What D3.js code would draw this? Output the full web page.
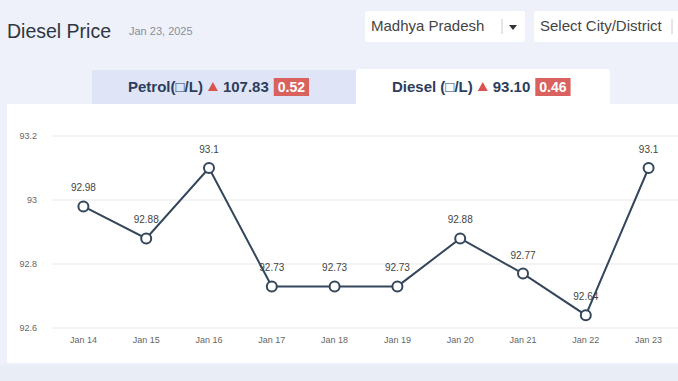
<!DOCTYPE html>
<html>
<head>
<meta charset="utf-8">
<script src="https://cdn.jsdelivr.net/npm/d3@7"></script>
<style>
  body { margin: 0; background: #eef1fa; font-family: "Liberation Sans", Arial, sans-serif; }
  svg { display: block; }
</style>
</head>
<body>
<div id="chart"></div>
<script>
var days = ["Jan 14", "Jan 15", "Jan 16", "Jan 17", "Jan 18", "Jan 19", "Jan 20", "Jan 21", "Jan 22", "Jan 23"];
var prices = [92.98, 92.88, 93.1, 92.73, 92.73, 92.73, 92.88, 92.77, 92.64, 93.1];
var yTicks = [92.6, 92.8, 93, 93.2];

var width = 678, height = 381;

var svg = d3.select("#chart").append("svg")
    .attr("width", width)
    .attr("height", height);

svg.append("rect").attr("width", width).attr("height", height).attr("fill", "#eef1fa");

// header
svg.append("text").attr("x", 7).attr("y", 38)
    .attr("font-size", 19.5).attr("fill", "#2f3640").text("Diesel Price");
svg.append("text").attr("x", 129).attr("y", 35)
    .attr("font-size", 11).attr("fill", "#8a8f99").text("Jan 23, 2025");

// dropdowns
var drops = [
  { x: 365, w: 160, label: "Madhya Pradesh", div: 502, arrow: true },
  { x: 534, w: 150, label: "Select City/District", div: 672, arrow: false }
];
drops.forEach(function(d) {
  svg.append("rect").attr("x", d.x).attr("y", 11).attr("width", d.w).attr("height", 31)
      .attr("rx", 3).attr("fill", "#fff");
  svg.append("text").attr("x", d.x + 6).attr("y", 31)
      .attr("font-size", 15).attr("fill", "#444").text(d.label);
  svg.append("line").attr("x1", d.div).attr("x2", d.div).attr("y1", 19).attr("y2", 34)
      .attr("stroke", "#ccc");
  if (d.arrow) {
    svg.append("path").attr("d", "M509,25 L517,25 L513,30 Z").attr("fill", "#333");
  }
});

// tabs
svg.append("rect").attr("x", 92).attr("y", 70).attr("width", 264).attr("height", 35)
    .attr("fill", "#dfe5f6");
svg.append("path").attr("d", "M356,104 L356,73 Q356,69 360,69 L606,69 Q610,69 610,73 L610,104 Z")
    .attr("fill", "#fff");

var tabs = [
  { x: 128, name: "Petrol(\u25A1/L)", price: "107.83", chg: "0.52" },
  { x: 392, name: "Diesel (\u25A1/L)", price: "93.10", chg: "0.46" }
];
tabs.forEach(function(t) {
  var g = svg.append("g");
  var t1 = g.append("text").attr("x", t.x).attr("y", 92)
      .attr("font-size", 15).attr("font-weight", "bold").attr("fill", "#2d3e5c").text(t.name);
  var w1 = t1.node().getComputedTextLength();
  var tx = t.x + w1 + 5;
  g.append("path").attr("d", "M" + tx + ",91 L" + (tx + 10) + ",91 L" + (tx + 5) + ",82 Z").attr("fill", "#d9534f");
  var t2 = g.append("text").attr("x", tx + 15).attr("y", 92)
      .attr("font-size", 15).attr("font-weight", "bold").attr("fill", "#2d3e5c").text(t.price);
  var bx = tx + 15 + t2.node().getComputedTextLength() + 5;
  var t3 = g.append("text").attr("x", bx + 4).attr("y", 92)
      .attr("font-size", 14).attr("font-weight", "bold").attr("fill", "#fff").text(t.chg);
  var bw = t3.node().getComputedTextLength() + 8;
  g.insert("rect", "text:last-child").attr("x", bx).attr("y", 78).attr("width", bw).attr("height", 18)
      .attr("fill", "#d9625e");
});

// chart panel
svg.append("rect").attr("x", 7).attr("y", 104).attr("width", width - 7).attr("height", 259)
    .attr("fill", "#fff");

var x = d3.scaleBand().domain(days).range([52, 680]);
var y = d3.scaleLinear().domain([92.6, 93.2]).range([328, 136]);

svg.append("g").selectAll("line").data(yTicks).enter().append("line")
    .attr("x1", 52).attr("x2", width)
    .attr("y1", function(d) { return y(d); }).attr("y2", function(d) { return y(d); })
    .attr("stroke", "#e8e8ec");

var yAxis = svg.append("g").attr("transform", "translate(40,0)")
    .call(d3.axisLeft(y).tickValues(yTicks).tickSize(0).tickFormat(d3.format("")));
yAxis.select(".domain").remove();
yAxis.selectAll("text").attr("font-size", 9).attr("fill", "#666").attr("font-family", "Liberation Sans, Arial, sans-serif");

var xAxis = svg.append("g").attr("transform", "translate(0,334)")
    .call(d3.axisBottom(x).tickSize(0));
xAxis.select(".domain").remove();
xAxis.selectAll("text").attr("font-size", 9).attr("fill", "#666").attr("font-family", "Liberation Sans, Arial, sans-serif");

var cx = function(d, i) { return x(days[i]) + x.bandwidth() / 2; };

var line = d3.line()
    .x(function(d, i) { return cx(d, i); })
    .y(function(d) { return y(d); });

svg.append("path").datum(prices)
    .attr("d", line)
    .attr("fill", "none")
    .attr("stroke", "#34465c")
    .attr("stroke-width", 2);

svg.append("g").selectAll("circle").data(prices).enter().append("circle")
    .attr("cx", cx).attr("cy", function(d) { return y(d); })
    .attr("r", 5).attr("fill", "#fff")
    .attr("stroke", "#34465c").attr("stroke-width", 2);

svg.append("g").selectAll("text").data(prices).enter().append("text")
    .attr("x", cx).attr("y", function(d) { return y(d) - 15; })
    .attr("text-anchor", "middle").attr("font-size", 10).attr("fill", "#444")
    .text(function(d) { return d; });

// bottom band
svg.append("rect").attr("x", 0).attr("y", 365).attr("width", width).attr("height", 16)
    .attr("fill", "#e9edf5");
</script>
</body>
</html>
